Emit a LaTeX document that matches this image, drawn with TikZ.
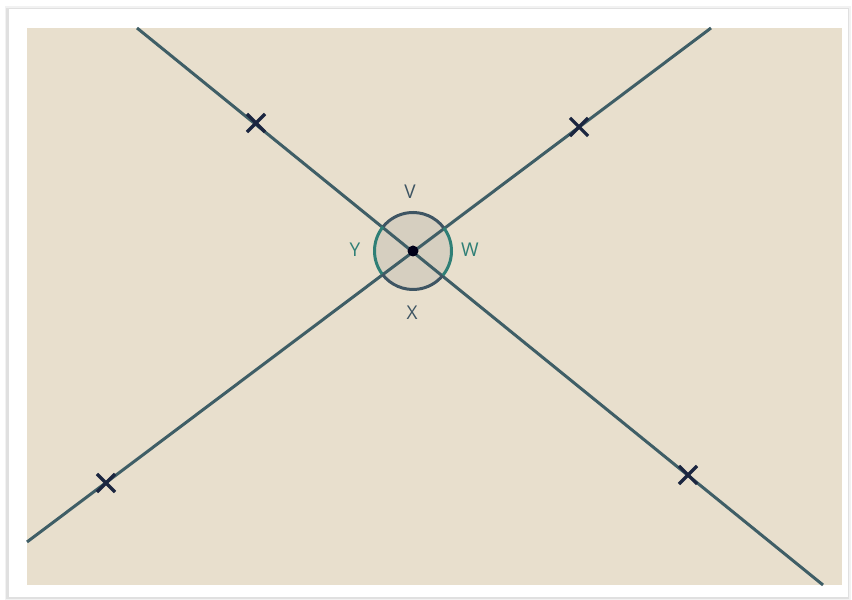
\documentclass[tikz,border=0pt]{standalone}
\usepackage{fontspec}
\setmainfont{Open Sans}
\usetikzlibrary{shapes.misc}
\definecolor{bgbeige}{HTML}{E8DFCD}
\definecolor{linec}{HTML}{3F5E66}
\definecolor{crossc}{HTML}{1B2640}
\definecolor{tealc}{HTML}{2F7F76}
\definecolor{darkc}{HTML}{3E5563}
\definecolor{discfill}{HTML}{D6CFC0}
\tikzset{
  ray/.style={draw=linec, line width=3bp},
  xmark/.style={cross out, draw=crossc, line width=3.2bp, minimum size=15bp, inner sep=0pt},
  lbl/.style={font=\fontsize{19bp}{22bp}\selectfont, inner sep=0pt},
  arcd/.style={draw=darkc, line width=3bp},
  arct/.style={draw=tealc, line width=3bp},
}
\begin{document}
\begin{tikzpicture}[x=1bp,y=1bp]
\useasboundingbox (0,0) rectangle (852,600);
\fill[white] (0,0) rectangle (852,600);
% shadow
\fill[black!5] (5,0) rectangle (851,594);
\fill[black!12] (6,1) rectangle (849,592);
\fill[white] (9,3) rectangle (848,591);
\fill[bgbeige] (27,15) rectangle (842,572);
% coordinates
\coordinate (C) at (413,349);
\coordinate (L1a) at (137,572);
\coordinate (L1b) at (823,15);
\coordinate (L2a) at (711,572);
\coordinate (L2b) at (27,58);
% disc
\fill[discfill] (C) circle (38.5);
\draw[ray] (L1a) -- (L1b);
\draw[ray] (L2a) -- (L2b);
\draw[arcd] ([shift={(37:38.5)}]C) arc (37:141:38.5);
\draw[arct] ([shift={(141:38.5)}]C) arc (141:217:38.5);
\draw[arcd] ([shift={(217:38.5)}]C) arc (217:321:38.5);
\draw[arct] ([shift={(321:38.5)}]C) arc (321:397:38.5);
\node[circle, fill=black!90!blue, minimum size=11bp, inner sep=0pt] (dot) at (C) {};
% crosses
\node[xmark] (m1) at (256,477) {};
\node[xmark] (m2) at (579,473) {};
\node[xmark] (m3) at (106,117) {};
\node[xmark] (m4) at (688,125) {};
% labels
\node[lbl, text=darkc] (V) at (410,408) {V};
\node[lbl, text=tealc] (W) at (470,350) {W};
\node[lbl, text=darkc] (X) at (412,287) {X};
\node[lbl, text=tealc] (Y) at (355,350) {Y};
\end{tikzpicture}
\end{document}
